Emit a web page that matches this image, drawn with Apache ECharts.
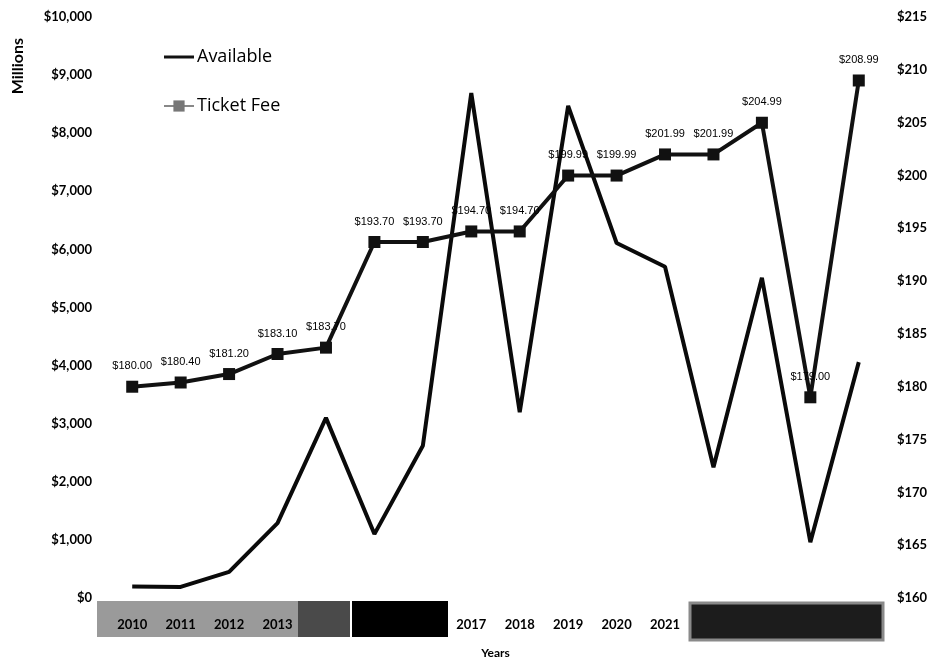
<!DOCTYPE html>
<html>
<head>
<meta charset="utf-8">
<title>Available vs Ticket Fee</title>
<script src="https://cdn.jsdelivr.net/npm/echarts@6/dist/echarts.min.js"></script>
<style>
  html, body { margin: 0; padding: 0; background: #ffffff; }
  #chart { width: 932px; height: 662px; }
</style>
</head>
<body>
<div id="chart"></div>
<script>
// Years on the category axis
const years = ['2010', '2011', '2012', '2013', '2014', '2015', '2016', '2017',
               '2018', '2019', '2020', '2021', '2022', '2023', '2024', '2025'];

// Available funds, in millions of dollars (left axis)
const available = [200, 190, 450, 1290, 3100, 1100, 2620, 8690,
                   3200, 8470, 6110, 5700, 2250, 5510, 960, 4060];

// Ticket fee, in dollars (right axis)
const ticketFee = [180.00, 180.40, 181.20, 183.10, 183.70, 193.70, 193.70, 194.70,
                   194.70, 199.99, 199.99, 201.99, 201.99, 204.99, 179.00, 208.99];

// Axis scales
const leftTicks = { min: 0, max: 10000, step: 1000 };
const rightTicks = { min: 160, max: 215, step: 5 };

const boldFont = 'Lato';
const chart = echarts.init(document.getElementById('chart'));

const money = v => '$' + Number(v).toLocaleString('en-US');

chart.setOption({
  animation: false,
  backgroundColor: '#ffffff',
  grid: { left: 108, right: 49, top: 17, bottom: 64, containLabel: false, outerBoundsMode: 'none' },
  legend: {
    orient: 'vertical',
    left: 158,
    top: 43,
    itemWidth: 30,
    itemHeight: 14,
    itemGap: 31,
    symbolKeepAspect: true,
    textStyle: { fontFamily: 'Open Sans', fontSize: 18, color: '#000', padding: [0, 0, 0, -2] },
    data: [
      { name: 'Available', icon: 'path://M0,0 L30,0 L30,3 L0,3 Z', itemStyle: { color: '#111' } },
      { name: 'Ticket Fee', itemStyle: { color: '#777' }, lineStyle: { color: '#888' } }
    ]
  },
  xAxis: {
    type: 'category',
    data: years,
    z: 5,
    name: 'Years',
    nameLocation: 'middle',
    nameGap: 49,
    nameTextStyle: { fontFamily: boldFont, fontWeight: 'bold', fontSize: 12, color: '#000' },
    axisLine: { show: false },
    axisTick: { show: false },
    axisLabel: { margin: 20, fontFamily: boldFont, fontWeight: 'bold', fontSize: 13, color: '#000' }
  },
  yAxis: [
    {
      type: 'value',
      min: leftTicks.min, max: leftTicks.max, interval: leftTicks.step,
      splitLine: { show: false },
      axisLine: { show: false },
      axisTick: { show: false },
      axisLabel: { margin: 16, fontFamily: boldFont, fontWeight: 'bold', fontSize: 13, color: '#000', formatter: money }
    },
    {
      type: 'value',
      position: 'right',
      min: rightTicks.min, max: rightTicks.max, interval: rightTicks.step,
      splitLine: { show: false },
      axisLine: { show: false },
      axisTick: { show: false },
      axisLabel: { margin: 14, fontFamily: boldFont, fontWeight: 'bold', fontSize: 13, color: '#000', formatter: money }
    }
  ],
  series: [
    {
      name: 'Available',
      type: 'line',
      yAxisIndex: 0,
      data: available,
      symbol: 'none',
      lineStyle: { color: '#0a0a0a', width: 4 },
      itemStyle: { color: '#0a0a0a' },
      z: 3
    },
    {
      name: 'Ticket Fee',
      type: 'line',
      yAxisIndex: 1,
      data: ticketFee,
      symbol: 'rect',
      symbolSize: 12,
      lineStyle: { color: '#111', width: 4 },
      itemStyle: { color: '#111' },
      label: {
        show: true,
        position: 'top',
        distance: 9,
        fontFamily: 'Liberation Sans',
        fontSize: 11,
        color: '#000',
        formatter: p => '$' + p.value.toFixed(2)
      },
      z: 4
    }
  ],
  graphic: [
    {
      type: 'text',
      left: 10,
      top: 38,
      rotation: Math.PI / 2,
      style: { text: 'Millions', fontFamily: boldFont, fontWeight: 'bold', fontSize: 16, fill: '#000' }
    },
    // shaded band behind the first year labels
    { type: 'rect', z: 1, shape: { x: 97, y: 601, width: 253, height: 36 }, style: { fill: '#9a9a9a' } },
    { type: 'rect', z: 10, shape: { x: 298, y: 601, width: 52, height: 36 }, style: { fill: '#4a4a4a' } },
    // solid bands over the later year labels
    { type: 'rect', z: 10, shape: { x: 352, y: 601, width: 96, height: 36 }, style: { fill: '#000' } },
    { type: 'rect', z: 10, shape: { x: 690, y: 603, width: 193, height: 37 }, style: { fill: '#1c1c1c', stroke: '#8a8a8a', lineWidth: 3 } }
  ]
});
</script>
</body>
</html>
